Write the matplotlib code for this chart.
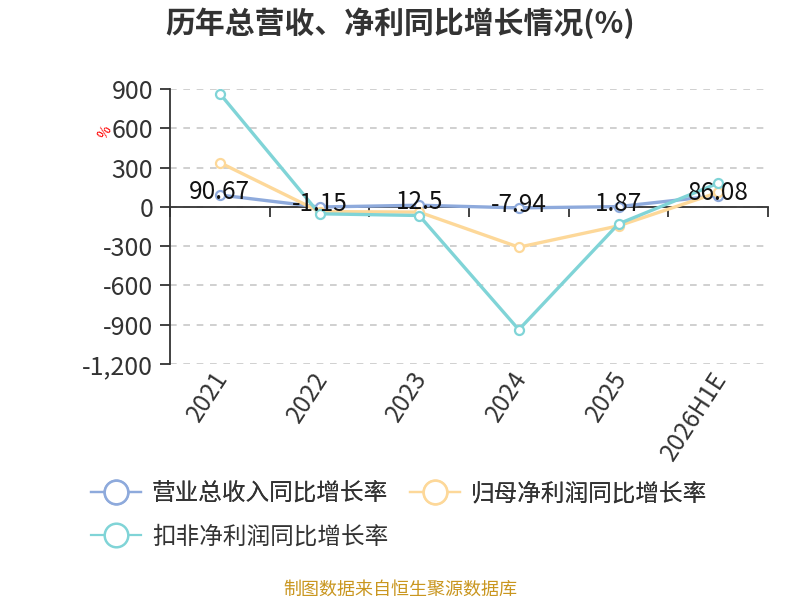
import matplotlib
matplotlib.use("Agg")
import matplotlib.pyplot as plt
import matplotlib.transforms as mtransforms
from matplotlib.lines import Line2D

plt.rcParams['font.family'] = ['Noto Sans CJK SC', 'DejaVu Sans']

categories = ["2021", "2022", "2023", "2024", "2025", "2026H1E"]
revenue_growth = [90.67, -1.15, 12.5, -7.94, 1.87, 86.08]
net_profit_growth = [338, -36, -40, -308, -145, 110]
deducted_profit_growth = [865, -53, -66, -938, -130, 181]
yticks = [900, 600, 300, 0, -300, -600, -900, -1200]
ytick_labels = ["900", "600", "300", "0", "-300", "-600", "-900", "-1,200"]
series_names = ["营业总收入同比增长率", "归母净利润同比增长率", "扣非净利润同比增长率"]
colors = ["#8eaadc", "#fdd899", "#80d4d7"]

fig = plt.figure(figsize=(8, 6), dpi=100)
ax = fig.add_axes([170/800, 1-364/600, 598/800, 275/600])

x = list(range(len(categories)))
for vals, c, z in zip([revenue_growth, net_profit_growth, deducted_profit_growth], colors, [3, 4, 5]):
    ax.plot(x, vals, color=c, lw=2.4, marker='o', markersize=6.5,
            markerfacecolor='white', markeredgecolor=c, markeredgewidth=1.6, zorder=z,
            solid_capstyle='round')

for xi, v in zip(x, revenue_growth):
    ax.annotate(f"{v:g}", (xi, v), xytext=(0, 2), textcoords='offset points',
                ha='center', va='center', fontsize=17.5, color='#111111', zorder=10)

ax.set_xlim(-0.5, len(categories) - 0.5)
ax.set_ylim(-1200, 900)
ax.set_yticks(yticks)
ax.set_yticklabels(ytick_labels, fontsize=18, color='#333333')
ax.yaxis.grid(True, linestyle=(0, (4, 4)), color='#c8c8c8', lw=1.2)
ax.set_axisbelow(True)

for s in ['top', 'right']:
    ax.spines[s].set_visible(False)
ax.spines['left'].set_color('#333333')
ax.spines['left'].set_linewidth(1.3)
ax.spines['bottom'].set_position(('data', 0))
ax.spines['bottom'].set_color('#333333')
ax.spines['bottom'].set_linewidth(1.3)
ax.tick_params(axis='y', length=7, width=1.3, color='#333333', pad=5)
ax.set_xticks([i - 0.5 for i in range(len(categories) + 1)])
ax.set_xticklabels([])
ax.tick_params(axis='x', length=7, width=1.3, color='#333333', direction='out')

trans = mtransforms.blended_transform_factory(ax.transData, fig.transFigure)
for xi, lab in zip(x, categories):
    ax.text(xi + 0.03, 1 - 374/600, lab, transform=trans, rotation=57, rotation_mode='anchor',
            ha='right', va='center', fontsize=17.5, color='#333333')

fig.text(105/800, 1 - 132/600, "%", color='red', fontsize=10, rotation=60,
         ha='center', va='center')

fig.text(0.5, 1 - 23/600, "历年总营收、净利同比增长情况(%)", ha='center', va='center',
         fontsize=21.5, fontweight='bold', color='#333333')

handles = [Line2D([0], [0], color=c, lw=1.6, marker='o', markersize=17,
                  markerfacecolor='white', markeredgecolor=c, markeredgewidth=1.8)
           for c in colors]
leg1 = fig.legend(handles[:2], series_names[:2], loc='center left',
                  bbox_to_anchor=(70/800, 1 - 494/600), ncol=2, frameon=False,
                  fontsize=17, handlelength=2.1, handletextpad=0.47, columnspacing=0.93,
                  labelcolor='#333333', borderpad=0.4, borderaxespad=0.5)
fig.legend(handles[2:], series_names[2:], loc='center left',
           bbox_to_anchor=(70/800, 1 - 537/600), frameon=False,
           fontsize=17, handlelength=2.1, handletextpad=0.47, labelcolor='#333333',
           borderpad=0.4, borderaxespad=0.5)
fig.add_artist(leg1)

fig.text(0.5, 1 - 590/600, "制图数据来自恒生聚源数据库", ha='center', va='center',
         fontsize=13, color='#c9961f')

fig.savefig("out.png", dpi=100)
